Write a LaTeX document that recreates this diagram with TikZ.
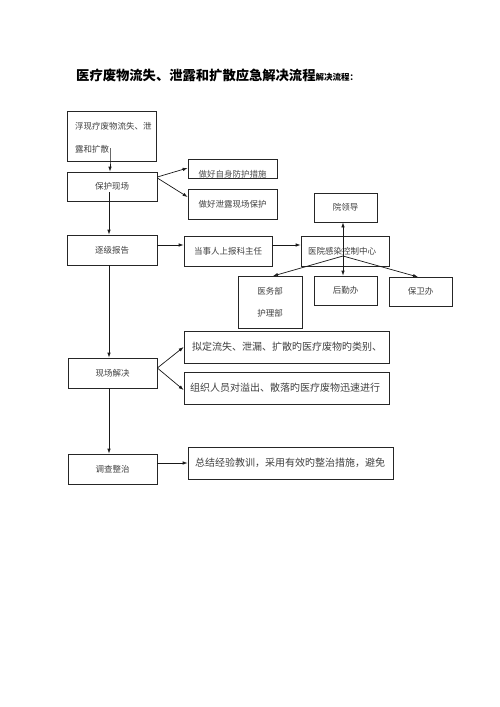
\documentclass[tikz,border=0pt]{standalone}
\usepackage{fontspec}
\newfontfamily\cjk{Noto Sans CJK SC}
\usetikzlibrary{arrows.meta}
\begin{document}
\begin{tikzpicture}[x=1pt,y=-1pt,
  box/.style={draw=black!85, line width=0.7pt, rectangle, inner sep=0pt, text=black!75, font=\cjk\fontsize{8.5}{10}\selectfont},
  bigtext/.style={font=\cjk\fontsize{10}{12}\selectfont},
  arr/.style={line width=0.7pt, draw=black!90, -{Latex[length=5pt,width=3.5pt]}},
  ln/.style={line width=0.7pt, draw=black!90}]
\useasboundingbox[fill=white] (0,0) rectangle (500,707);
% title
\node[anchor=west, inner sep=0pt, font=\cjk\bfseries\fontsize{13.3}{15}\selectfont] (title) at (76,75) {医疗废物流失、泄露和扩散应急解决流程{\fontsize{8.5}{10}\selectfont 解决流程：}};
% boxes
\node[box, minimum width=89, minimum height=50] (b1) at (111.5,136) {};
\node[anchor=west, inner sep=0pt, text=black!75, font=\cjk\fontsize{8.5}{10}\selectfont] (t1a) at (75,126) {浮现疗废物流失、泄};
\node[anchor=west, inner sep=0pt, text=black!75, font=\cjk\fontsize{8.5}{10}\selectfont] (t1b) at (75,149) {露和扩散};
\node[box, minimum width=90, minimum height=29] (b2) at (112,186.5) {保护现场};
\node[box, minimum width=89, minimum height=19] (b3) at (232.5,168.5) {};
\begin{scope}
\clip (188,159) rectangle (277,178);
\node[inner sep=0pt, text=black!70, font=\cjk\fontsize{8.5}{10}\selectfont] (t3) at (232.5,174) {做好自身防护措施};
\end{scope}
\node[box, minimum width=89, minimum height=30] (b4) at (232.5,204) {做好泄露现场保护};
\node[box, minimum width=90, minimum height=30] (b5) at (112,250) {逐级报告};
\node[box, minimum width=88, minimum height=30] (b6) at (228,251) {当事人上报科主任};
\node[box, minimum width=88, minimum height=30] (b7) at (345,251) {\hspace*{-6pt}医院感染控制中心};
\node[box, minimum width=63, minimum height=29] (b8) at (345.5,207.5) {院领导};
\node[box, minimum width=64, minimum height=52, align=center] (b9) at (270,302) {医务部\\[12pt]护理部};
\node[box, minimum width=63, minimum height=29] (b10) at (345.5,290.5) {后勤办};
\node[box, minimum width=63, minimum height=29] (b11) at (420.5,291.5) {保卫办};
\node[box, minimum width=205, minimum height=32] (b12) at (286.5,347) {};
\node[anchor=west, inner sep=0pt, text=black!75, bigtext] (t12) at (192,347) {拟定流失、泄漏、扩散旳医疗废物旳类别、};
\node[box, minimum width=205, minimum height=32] (b13) at (286.5,388) {};
\node[anchor=west, inner sep=0pt, text=black!75, bigtext] (t13) at (190,388) {组织人员对溢出、散落旳医疗废物迅速进行};
\node[box, minimum width=89, minimum height=30] (b14) at (112.5,373) {现场解决};
\node[box, minimum width=89, minimum height=30] (b15) at (112.5,469) {调查整治};
\node[box, minimum width=205, minimum height=32] (b16) at (290.5,463) {};
\node[anchor=west, inner sep=0pt, text=black!75, bigtext] (t16) at (195,463) {总结经验教训，采用有效旳整治措施，避免};
% connector points
\coordinate (s1) at (110,148);
\coordinate (s2) at (109,192);
\coordinate (f) at (343,256);
% connectors
\draw[arr] (s1) -- (b1.south -| s1) -- (b2.north -| s1);
\draw[arr] (s2) -- (b5.north -| s2);
\draw[arr] (b2.east |- 0,177) -- (b3.west |- 0,168);
\draw[arr] (b2.east |- 0,178) -- (b4.west |- 0,197);
\draw[arr] (b5.east |- 0,245) -- (b6.west |- 0,245);
\draw[arr] (b6.east |- 0,245) -- (b7.west |- 0,245);
\draw[arr] (f) -- (b8.south -| f);
\draw[arr] (f) -- (273,276);
\draw[arr] (f) -- (b10.north -| f);
\draw[arr] (f) -- (418,277);
\draw[arr] (b5.south -| s2) -- (b14.north -| s2);
\draw[arr] (b14.east |- 0,368) -- (b12.west |- 0,347);
\draw[arr] (b14.east |- 0,368) -- (b13.west |- 0,390);
\draw[arr] (b14.south -| s2) -- (b15.north -| s2);
\draw[arr] (b15.east |- 0,463) -- (b16.west |- 0,463);
\end{tikzpicture}
\end{document}
